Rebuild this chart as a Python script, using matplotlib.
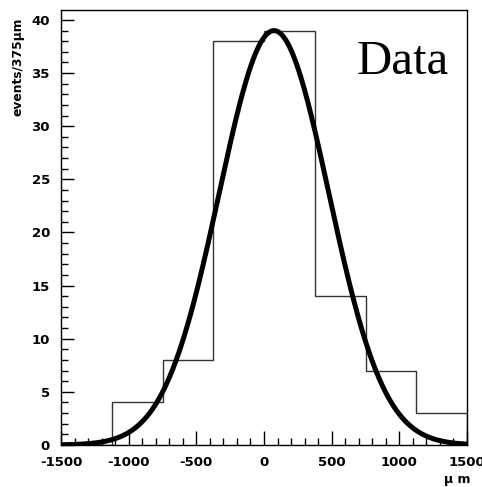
import numpy as np
import matplotlib
matplotlib.use("Agg")
import matplotlib.pyplot as plt
from matplotlib.ticker import MultipleLocator

plt.rcParams["axes.unicode_minus"] = False

# Histogram data (bin edges in micrometres, counts per 375 um)
bin_edges = [-1500, -1125, -750, -375, 0, 375, 750, 1125, 1500]
counts = [0, 4, 8, 38, 39, 14, 7, 3]

# Gaussian fit parameters
fit_amplitude = 39.0
fit_mean = 74.0
fit_sigma = 406.0

x_ticks = [-1500, -1000, -500, 0, 500, 1000, 1500]
y_ticks = [0, 5, 10, 15, 20, 25, 30, 35, 40]

W, H = 482, 487
fig = plt.figure(figsize=(W / 100, H / 100), dpi=100)
left, right, top, bottom = 61, 467, 10, 445
ax = fig.add_axes([left / W, 1 - bottom / H, (right - left) / W, (bottom - top) / H])

ax.stairs(counts, bin_edges, color="#333333", linewidth=1.0)

xs = np.linspace(-1500, 1500, 600)
ys = fit_amplitude * np.exp(-0.5 * ((xs - fit_mean) / fit_sigma) ** 2)
ax.plot(xs, ys, color="black", linewidth=3.6, solid_capstyle="round")

ax.set_xlim(-1500, 1500)
ax.set_ylim(0, 40.94)
ax.set_xticks(x_ticks)
ax.set_yticks(y_ticks)
ax.xaxis.set_minor_locator(MultipleLocator(100))
ax.yaxis.set_minor_locator(MultipleLocator(1))
ax.tick_params(which="both", direction="in", width=1.0, color="black")
ax.tick_params(which="major", length=9, pad=8)
ax.tick_params(which="minor", length=5)
ax.tick_params(axis="x", which="major", length=10, pad=8)
for lab in ax.get_xticklabels() + ax.get_yticklabels():
    lab.set_fontweight("bold")
    lab.set_fontsize(9.5)
    lab.set_family("DejaVu Sans")
for sp in ax.spines.values():
    sp.set_linewidth(1.0)

ax.set_ylabel("events/375\u03bcm", fontsize=8.8, fontweight="bold", loc="top")
ax.yaxis.set_label_coords((25 - left) / (right - left), 0.983)
ax.set_xlabel("\u03bc m", fontsize=9, fontweight="bold", loc="right")
ax.xaxis.set_label_coords((471 - left) / (right - left), -(473 - bottom) / (bottom - top))
ax.xaxis.label.set_va("top")

ax.text(0.955, 0.93, "Data", transform=ax.transAxes, ha="right", va="top",
        fontsize=35, family="Liberation Serif")

fig.savefig("out.png", dpi=100)
